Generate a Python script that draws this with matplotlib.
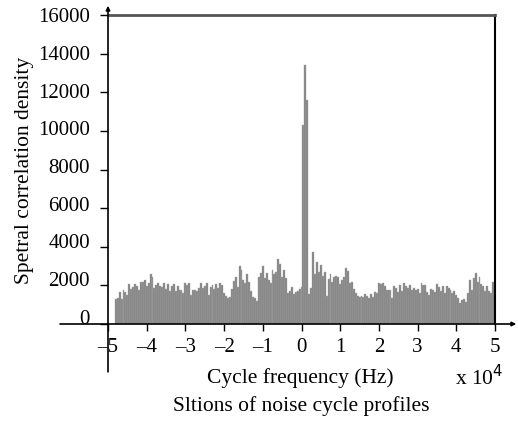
import numpy as np
import matplotlib.pyplot as plt
import matplotlib.transforms as mtransforms

# Values, 0.05 step in cycle frequency (x 10^4 Hz)
seg1 = [1300, 1350, 1650, 1300, 1750, 1650, 1500, 2070, 1800, 1900, 2070, 1950,
        1750, 2170, 2200, 2280, 1950, 2100, 2600, 2450, 1850, 2000, 2100, 1950,
        1900, 2100, 1800, 2050, 1700, 1950, 2050]            # -4.80 .. -3.30
seg2 = [1700, 1950, 1750, 1760, 1600, 2100, 2000, 2100, 1500, 1760, 1760, 1700,
        1850, 2100, 1850, 1950, 2100, 1500, 1900, 2000, 1800, 2050, 1850, 2100,
        2000, 1600, 1450, 1350, 1400, 1800, 2250]            # -3.25 .. -1.75
seg3 = [2450, 1900, 3000, 2800, 2300, 2100, 2600, 2200, 1700, 1400, 1350, 1200,
        2450, 2650, 3000, 2400, 2650, 2300, 2100, 2800, 2600, 2700, 3350, 3100,
        2450, 2800, 2400, 1600, 1700, 1900, 1550, 1650, 1700, 1800, 1900]  # -1.70 .. 0.00
peak = [10300, 13400, 11600]                                 # 0.05 .. 0.15
seg4 = [1550, 1850, 3750, 2600, 3200, 2700, 3050, 2500, 2700, 1450, 2350, 2600,
        2200, 2450, 2500, 2450, 2050, 2300, 2450, 2900, 2750, 2100, 2200, 1800,
        1600, 1450, 1400, 1450, 1400, 1550, 1450]            # 0.20 .. 1.70
seg5 = [1350, 1550, 1400, 1650, 1600, 2100, 2050, 2100, 1950, 1750, 1750, 1750,
        1350, 1950, 1850, 1650, 2000, 1700, 2100, 1950, 1850, 2000, 1750, 1850,
        1750, 1800, 1600, 2100, 2000, 2000, 1650, 1500, 1800, 1750]  # 1.75 .. 3.40
seg6 = [1650, 2050, 1900, 1700, 1950, 1600, 1950, 1850, 1750, 1600, 1700, 1500,
        1350, 1100, 1250, 1300, 1150, 1600, 2300, 1750, 2400, 2650, 2200, 2450,
        2050, 1950, 1700, 1950, 1700, 1600, 2200]            # 3.45 .. 4.95

density = np.array(seg1 + seg2 + seg3 + peak + seg4 + seg5 + seg6)
freq = np.round(np.arange(len(density)) * 0.05 - 4.80, 2)

yticks = [0, 2000, 4000, 6000, 8000, 10000, 12000, 14000, 16000]
xticks = [-5, -4, -3, -2, -1, 0, 1, 2, 3, 4, 5]
xticklabels = ['\u20135', '\u20134', '\u20133', '\u20132', '\u20131',
               '0', '1', '2', '3', '4', '5']

plt.rcParams['font.family'] = ['Liberation Serif', 'DejaVu Serif']
plt.rcParams['font.size'] = 15

W, H = 518, 428
fig = plt.figure(figsize=(W / 100, H / 100), dpi=100)
ax = fig.add_axes([108 / W, 104 / H, 387 / W, 309 / H])

ax.bar(freq, density, width=0.05, color='#828282', edgecolor='#a8a8a8',
       linewidth=0.3)

ax.set_xlim(-5, 5)
ax.set_ylim(0, 16000)
ax.set_xticks(xticks)
ax.set_xticklabels(xticklabels)
ax.set_yticks(yticks)
ax.set_yticklabels([str(v) for v in yticks])
ax.tick_params(axis='y', direction='out', length=6, width=1, pad=7)
ax.tick_params(axis='x', direction='out', length=5, width=1, pad=5)

# the y labels sit a little above their ticks toward the bottom
for v, lab in zip(yticks, ax.get_yticklabels()):
    dy = 7 * (1 - v / 16000) / 100
    lab.set_transform(lab.get_transform() +
                      mtransforms.ScaledTranslation(0, dy, fig.dpi_scale_trans))

ax.spines['left'].set_visible(False)
ax.spines['bottom'].set_visible(False)
ax.spines['top'].set_color('#555555')
ax.spines['top'].set_linewidth(2)
ax.spines['right'].set_linewidth(1.5)

# axis lines with arrows, extending past the plot box
ax.annotate('', xy=(0, 1.03), xytext=(0, -0.155), xycoords='axes fraction',
            arrowprops=dict(arrowstyle='-|>', lw=1.2, color='black',
                            mutation_scale=6, shrinkA=0, shrinkB=0))
ax.annotate('', xy=(1.055, 0), xytext=(-0.124, 0), xycoords='axes fraction',
            arrowprops=dict(arrowstyle='-|>', lw=1.2, color='black',
                            mutation_scale=6, shrinkA=0, shrinkB=0))

fig.text(25 / W, 1 - 170 / H, 'Spetral correlation density', rotation=90,
         ha='center', va='center', fontsize=15.5)
fig.text(300 / W, 1 - 378 / H, 'Cycle frequency (Hz)', ha='center',
         va='center', fontsize=15.5)
fig.text(479 / W, 1 - 378 / H, r'x 10$^4$', ha='center', va='center',
         fontsize=15.5)
fig.text(301 / W, 1 - 406 / H, 'Sltions of noise cycle profiles',
         ha='center', va='center', fontsize=15.5)

fig.savefig('out.png', dpi=100)
